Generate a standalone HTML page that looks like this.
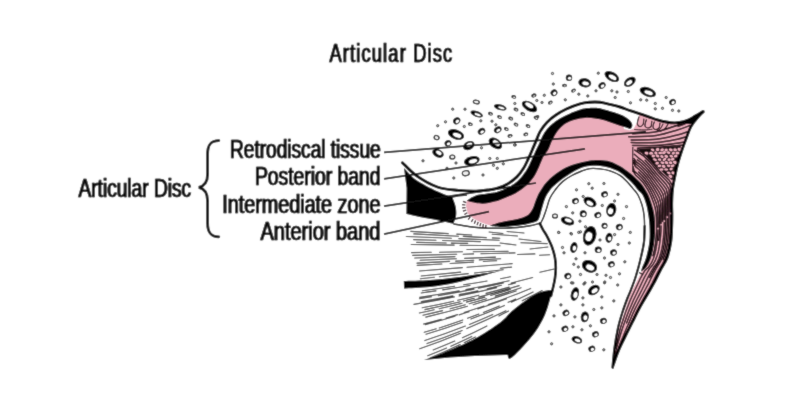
<!DOCTYPE html>
<html><head><meta charset="utf-8"><title>Articular Disc</title>
<style>
html,body{margin:0;padding:0;background:#fff;}
svg{display:block;font-family:"Liberation Sans",sans-serif;}
text{fill:#0c0c0c;stroke:#0c0c0c;stroke-width:0.45px;}
.t{filter:drop-shadow(1px 0 0 #111);}
</style></head>
<body>
<svg width="800" height="401" viewBox="0 0 800 401">
<defs><filter id="soft" x="0" y="0" width="800" height="401" filterUnits="userSpaceOnUse"><feConvolveMatrix order="3" kernelMatrix="0.02 0.085 0.02 0.085 0.58 0.085 0.02 0.085 0.02" divisor="1" edgeMode="duplicate" preserveAlpha="true"/></filter></defs>
<rect width="800" height="401" fill="#fff"/>
<g filter="url(#soft)">
<rect width="800" height="401" fill="#fff"/>
<path d="M466.8,200.6C468.8,200.2 474.3,198.8 479.0,198.0C483.7,197.2 489.7,197.5 495.0,196.0C500.3,194.5 506.2,192.0 511.0,189.0C515.8,186.0 520.3,182.2 524.0,178.0C527.7,173.8 530.7,168.3 533.0,164.0C535.3,159.7 537.5,155.7 538.0,152.0C538.5,148.3 535.3,145.3 535.7,141.9C536.1,138.5 538.3,134.7 540.2,131.4C542.1,128.2 544.3,125.1 546.9,122.4C549.5,119.7 552.6,117.2 555.9,115.0C559.1,112.8 562.4,110.9 566.4,109.0C570.4,107.1 576.1,104.9 580.0,103.8C583.9,102.7 586.7,102.5 590.0,102.2C593.3,102.0 596.7,101.9 600.0,102.3C603.3,102.7 606.7,103.6 610.0,104.4C613.3,105.2 616.7,106.0 620.0,107.0C623.3,108.0 626.7,109.5 630.0,110.6C633.3,111.7 636.9,112.8 640.0,113.8C643.1,114.8 645.8,115.8 648.7,116.8C651.6,117.8 654.6,119.0 657.5,119.9C660.4,120.8 663.3,121.5 666.2,122.0C669.1,122.5 672.1,123.0 675.0,122.9C677.9,122.8 680.8,122.4 683.7,121.6C686.6,120.8 689.6,119.6 692.5,118.1C695.4,116.6 699.5,113.6 701.2,112.6C703.0,111.5 702.7,111.9 703.0,111.8L696.4,119.0L690.8,126.9L686.3,138.2L682.0,150.0L678.0,163.0L675.0,176.0L672.5,190.0L671.8,203.0L672.0,215.0L671.8,226.0L670.8,242.0L667.0,258.0L660.5,270.0L655.0,281.0L650.0,290.0L640.0,307.0L632.5,322.0L626.0,335.0L618.8,350.0L612.5,367.5L614.0,350.0L620.0,325.0L630.0,295.0L645.0,265.0L650.0,240.0L648.0,205.0L640.0,188.0L625.0,175.0L600.0,166.0L575.0,170.0L555.0,184.0L545.0,200.0L538.0,215.0L520.0,222.0L490.5,225.5L488.7,224.9L481.2,222.4L473.7,218.7L468.0,213.7L466.0,206.2L466.8,200.6Z" fill="#EBADBB"/>
<path d="M452.4,189.8L454.5,190.0L456.5,190.2L458.5,190.4L460.4,190.6L462.3,190.8L464.2,190.9L466.0,191.0L467.8,191.1L469.6,191.2L471.3,191.2L473.0,191.2L474.6,191.2L476.2,191.2L477.8,191.1L479.3,191.0L480.8,190.9L482.3,190.8L483.7,190.6L485.1,190.4L486.4,190.2L487.7,190.0L488.9,189.9L490.0,189.7L491.0,189.6L491.9,189.4L492.6,189.3L493.3,189.2L494.0,189.1L494.6,189.0L495.2,188.9L495.9,188.7L496.7,188.5L497.5,188.2L498.4,187.9L499.4,187.5L500.5,187.1L501.6,186.7L502.7,186.3L503.8,185.8L504.9,185.3L506.0,184.8L507.0,184.3L508.0,183.7L509.0,183.1L509.9,182.5L510.9,181.9L511.8,181.2L512.7,180.6L513.6,179.9L514.4,179.2L515.3,178.4L516.1,177.7L516.9,176.9L517.7,176.1L518.4,175.3L519.2,174.4L519.9,173.5L520.6,172.6L521.2,171.7L521.9,170.7L522.5,169.8L523.1,168.9L523.7,168.0L524.2,167.1L524.8,166.2L525.2,165.3L525.7,164.4L526.1,163.5L526.6,162.6L527.0,161.7L527.4,160.8L527.8,159.9L528.2,159.0L528.6,158.1L529.0,157.3L529.4,156.4L529.8,155.6L530.1,154.7L530.5,153.9L530.9,153.0L531.3,152.2L531.6,151.4L532.0,150.5L532.4,149.7L532.7,148.8L533.1,148.0L533.4,147.2L533.8,146.3L534.2,145.5L534.5,144.6L534.9,143.7L535.3,142.8L535.7,141.9L536.1,140.9L536.5,139.9L536.9,138.8L537.3,137.8L537.8,136.7L538.2,135.6L538.7,134.5L539.1,133.4L539.7,132.4L540.2,131.4L540.8,130.4L541.4,129.5L542.0,128.5L542.6,127.6L543.3,126.7L543.9,125.8L544.7,124.9L545.4,124.1L546.1,123.2L546.9,122.4L547.7,121.6L548.5,120.8L549.4,120.0L550.3,119.3L551.2,118.5L552.1,117.8L553.0,117.1L554.0,116.4L554.9,115.7L555.9,115.0L556.9,114.3L557.9,113.7L558.8,113.1L559.8,112.5L560.9,111.9L561.9,111.3L563.0,110.7L564.1,110.1L565.2,109.6L566.4,109.0L567.7,108.4L569.0,107.9L570.4,107.3L571.8,106.7L573.2,106.1L574.7,105.6L576.1,105.1L577.5,104.6L578.8,104.2L580.0,103.8L581.1,103.5L582.2,103.2L583.3,103.0L584.3,102.8L585.2,102.7L586.2,102.5L587.1,102.4L588.1,102.4L589.0,102.3L590.0,102.2L591.0,102.1L592.0,102.1L593.0,102.0L594.0,102.0L595.0,102.0L596.0,102.0L597.0,102.1L598.0,102.1L599.0,102.2L600.0,102.3L601.0,102.4L602.0,102.6L603.0,102.8L604.0,103.0L605.0,103.2L606.0,103.4L607.0,103.7L608.0,103.9L609.0,104.2L610.0,104.4L611.0,104.6L612.0,104.9L613.0,105.1L614.0,105.4L615.0,105.6L616.0,105.9L617.0,106.1L618.0,106.4L619.0,106.7L620.0,107.0L621.0,107.3L622.0,107.7L623.0,108.0L624.0,108.4L625.0,108.8L626.0,109.1L627.0,109.5L628.0,109.9L629.0,110.3L630.0,110.6L631.0,110.9L632.0,111.3L633.0,111.6L634.1,111.9L635.1,112.2L636.1,112.6L637.1,112.9L638.1,113.2L639.1,113.5L638.8,116.4L636.8,122.9L633.8,128.4L629.8,130.2L624.0,129.0L621.8,117.2L620.9,116.8L619.9,116.5L619.0,116.2L618.2,115.9L617.3,115.6L616.4,115.3L615.5,115.1L614.6,114.8L613.7,114.6L612.8,114.3L611.8,114.1L610.9,113.9L609.9,113.6L608.9,113.4L607.9,113.2L606.9,112.9L605.9,112.7L604.9,112.4L603.9,112.2L603.0,112.0L602.1,111.8L601.3,111.6L600.5,111.5L599.7,111.3L599.0,111.2L598.2,111.2L597.4,111.1L596.6,111.1L595.8,111.0L594.9,111.0L594.1,111.0L593.3,111.0L592.4,111.1L591.5,111.1L590.6,111.2L589.7,111.2L588.8,111.3L588.0,111.4L587.2,111.5L586.5,111.6L585.8,111.7L585.0,111.8L584.2,112.0L583.4,112.2L582.5,112.4L581.5,112.8L580.3,113.1L579.1,113.6L577.8,114.0L576.5,114.5L575.1,115.0L573.8,115.6L572.5,116.1L571.3,116.7L570.2,117.2L569.1,117.7L568.1,118.2L567.2,118.7L566.3,119.2L565.3,119.7L564.5,120.2L563.6,120.7L562.7,121.3L561.9,121.8L561.0,122.4L560.1,123.0L559.3,123.6L558.4,124.3L557.6,124.9L556.8,125.5L556.1,126.1L555.4,126.8L554.7,127.4L554.0,128.0L553.4,128.6L552.8,129.3L552.2,130.0L551.6,130.6L551.0,131.4L550.5,132.1L550.0,132.8L549.5,133.6L549.0,134.3L548.5,135.1L548.0,135.8L547.6,136.5L547.3,137.3L546.9,138.1L546.5,139.0L546.1,140.0L545.7,141.0L545.3,142.1L544.9,143.2L544.4,144.3L544.0,145.4L543.6,146.4L543.2,147.3L542.8,148.2L542.4,149.0L542.1,149.9L541.7,150.7L541.4,151.6L541.0,152.4L540.6,153.2L540.2,154.1L539.9,155.0L539.5,155.8L539.1,156.6L538.8,157.5L538.4,158.4L538.0,159.2L537.6,160.1L537.2,161.0L536.8,161.9L536.3,162.8L536.0,163.7L535.6,164.5L535.2,165.4L534.7,166.3L534.3,167.3L533.8,168.4L533.2,169.4L532.6,170.5L532.0,171.7L531.3,172.8L530.7,173.8L530.0,174.8L529.3,175.9L528.6,176.9L527.8,178.0L527.0,179.0L526.1,180.1L525.2,181.2L524.3,182.2L523.3,183.3L522.3,184.2L521.3,185.1L520.3,186.0L519.2,186.9L518.1,187.7L517.0,188.5L515.9,189.3L514.8,190.1L513.7,190.8L512.5,191.5L511.2,192.2L510.0,192.9L508.7,193.5L507.4,194.1L506.1,194.6L504.9,195.1L503.7,195.6L502.5,196.0L501.4,196.4L500.3,196.7L499.3,197.1L498.3,197.4L497.4,197.6L496.4,197.8L495.5,198.0L494.7,198.1L493.9,198.3L493.1,198.4L492.2,198.5L491.3,198.6L490.2,198.8L489.0,198.9L487.7,199.1L486.3,199.3L484.9,199.5L483.3,199.7L481.7,199.9L480.0,200.0L478.2,200.1L476.4,200.2L474.7,200.2L472.9,200.2L471.1,200.2L469.3,200.2L467.5,200.1L452.5,197Z" fill="#fff"/>
<path d="M466.8,200.6L467.7,199.9L469.5,198.7L471.2,197.6L473.0,196.7L474.6,195.9L476.3,195.3L477.9,194.8L479.6,194.4L481.1,194.2L482.7,194.0L484.2,193.9L485.6,193.7L486.9,193.5L488.2,193.3L489.4,193.1L490.5,193.0L491.4,192.8L492.3,192.7L493.1,192.6L493.8,192.5L494.5,192.4L495.3,192.2L496.0,192.1L496.8,191.9L497.6,191.6L498.5,191.3L499.5,191.0L500.6,190.6L501.6,190.2L502.8,189.8L503.9,189.3L505.1,188.8L506.3,188.3L507.4,187.8L508.6,187.2L509.7,186.6L510.7,185.9L511.7,185.3L512.7,184.6L513.7,183.9L514.7,183.2L515.6,182.5L516.6,181.7L517.5,180.9L518.4,180.1L519.2,179.2L520.1,178.3L520.9,177.4L521.7,176.5L522.5,175.5L523.2,174.6L523.9,173.6L524.6,172.6L525.3,171.7L525.9,170.7L526.5,169.7L527.1,168.8L527.7,167.8L528.2,166.8L528.7,165.8L529.1,164.9L529.6,164.0L530.0,163.0L530.4,162.1L530.8,161.3L531.2,160.4L531.6,159.5L532.0,158.6L532.4,157.8L532.8,156.9L533.2,156.1L533.5,155.2L533.9,154.4L534.3,153.5L534.7,152.7L535.0,151.8L535.4,151.0L535.8,150.2L536.2,149.3L536.6,148.5L537.0,147.7L537.4,146.9L537.8,146.0L538.3,145.2L538.7,144.3L539.1,143.3L539.6,142.3L540.1,141.3L540.5,140.2L541.0,139.2L541.4,138.1L541.9,137.1L542.3,136.1L542.8,135.2L543.3,134.3L543.8,133.4L544.3,132.6L544.9,131.7L545.5,130.9L546.1,130.1L546.8,129.3L547.4,128.5L548.1,127.7L548.8,127.0L549.5,126.3L550.2,125.6L550.9,124.9L551.7,124.2L552.5,123.5L553.3,122.9L554.2,122.2L555.0,121.6L555.9,120.9L556.8,120.3L557.8,119.7L558.7,119.1L559.7,118.5L560.6,118.0L561.5,117.4L562.5,116.9L563.4,116.4L564.4,115.9L565.4,115.4L566.5,114.9L567.6,114.4L568.7,113.9L569.9,113.4L571.1,112.8L572.4,112.3L573.8,111.7L575.2,111.2L576.6,110.7L577.9,110.2L579.2,109.8L580.4,109.4L581.5,109.1L582.5,108.8L583.5,108.6L584.3,108.4L585.2,108.3L586.0,108.2L586.8,108.1L587.7,108.0L588.5,107.9L589.5,107.9L590.4,107.8L591.3,107.8L592.3,107.7L593.2,107.7L594.1,107.7L595.0,107.7L595.9,107.7L596.7,107.8L597.6,107.9L598.5,108.0L599.3,108.1L600.2,108.3L601.0,108.5L601.9,108.7L602.7,108.9L603.6,109.2L604.6,109.4L605.5,109.7L606.5,110.0L607.5,110.3L608.5,110.6L609.5,110.9L610.5,111.2L611.5,111.5L612.4,111.8L613.4,112.0L614.3,112.3L615.2,112.6L616.1,112.9L617.1,113.3L617.9,113.6C619.1,114.1 622.9,115.5 624.6,116.4C626.3,117.3 627.3,118.1 628.4,119.0C629.5,119.9 630.5,121.0 631.2,122.0C631.9,123.0 632.3,124.0 632.4,125.0C632.5,126.0 632.0,127.1 631.6,127.8C631.2,128.4 630.8,129.0 629.8,128.9C628.8,128.8 628.3,128.2 625.8,127.4C623.3,126.6 618.4,125.1 614.9,123.9C611.4,122.7 608.2,121.3 604.9,120.4C601.6,119.5 598.2,118.8 594.9,118.4C591.6,118.0 588.3,117.7 585.0,117.9C581.7,118.1 578.4,118.7 575.0,119.7C571.6,120.7 567.8,122.0 564.9,123.9C562.0,125.9 559.5,128.7 557.4,131.4C555.3,134.2 553.7,137.4 552.2,140.4C550.7,143.4 549.7,147.0 548.4,149.4C547.1,151.8 545.6,153.4 544.6,155.0C543.6,156.6 543.5,156.6 542.4,159.0C541.3,161.4 539.4,166.4 537.9,169.5C536.4,172.6 535.4,175.0 533.4,177.7C531.4,180.4 528.9,183.3 525.9,185.9C522.9,188.5 518.9,191.4 515.4,193.4C511.9,195.4 508.4,196.5 505.0,197.9C501.6,199.3 498.7,200.6 494.9,201.6C491.1,202.6 486.5,203.7 482.4,203.7C478.2,203.7 472.6,202.3 470.0,201.8C467.4,201.3 467.3,200.8 466.8,200.6Z" fill="#000"/>
<path d="M451,197.3 Q458,195.6 467,195.2" fill="none" stroke="#000" stroke-width="1.3"/>
<path d="M632.5,133.7C636.5,133.4 649.2,133.1 656.2,131.8C663.2,130.6 669.0,127.9 674.8,126.2C680.6,124.5 688.3,122.5 691.0,121.8" fill="none" stroke="#1c0a10" stroke-width="1.5" stroke-linecap="round"/>
<path d="M628.7,136.8C633.3,136.6 648.1,136.6 656.2,135.5C664.3,134.4 671.7,131.7 677.3,130.0C682.9,128.3 687.7,126.3 689.8,125.6" fill="none" stroke="#1c0a10" stroke-width="1.5" stroke-linecap="round"/>
<path d="M631.2,139.9C635.4,139.8 648.5,140.1 656.2,139.3C663.9,138.5 672.1,136.2 677.3,134.9C682.5,133.7 685.6,132.3 687.3,131.8" fill="none" stroke="#1c0a10" stroke-width="1.5" stroke-linecap="round"/>
<path d="M631.2,142.6C635.4,142.6 648.5,143.1 656.2,142.6C663.9,142.1 672.3,140.3 677.3,139.3C682.3,138.3 684.5,137.2 686.0,136.8" fill="none" stroke="#1c0a10" stroke-width="1.5" stroke-linecap="round"/>
<path d="M632.5,145.5C636.5,145.5 649.2,145.9 656.2,145.6C663.2,145.3 670.0,144.2 674.8,143.6C679.6,143.0 683.1,142.1 684.8,141.8" fill="none" stroke="#1c0a10" stroke-width="1.5" stroke-linecap="round"/>
<path d="M637.5,148.2C641.6,148.0 654.7,147.4 662.4,146.9C670.1,146.4 680.1,145.5 683.6,145.2" fill="none" stroke="#1c0a10" stroke-width="1.5" stroke-linecap="round"/>
<path d="M638.9,117.0C638.7,117.7 637.9,119.8 637.7,121.0C637.5,122.2 637.1,123.6 637.5,124.5C637.9,125.4 639.1,126.6 640.0,126.6C640.9,126.6 642.4,125.4 643.0,124.5C643.6,123.6 643.5,122.1 643.6,121.2C643.7,120.3 643.8,119.4 643.8,119.0" fill="none" stroke="#1c0a10" stroke-width="1.2" stroke-linecap="round"/>
<path d="M646.4,119.8C646.2,120.4 645.4,122.4 645.2,123.5C645.0,124.6 644.7,125.8 645.2,126.5C645.7,127.2 647.0,128.0 648.0,128.0C649.0,128.0 650.4,127.2 651.0,126.5C651.6,125.8 651.4,124.3 651.5,123.5C651.6,122.7 651.8,121.8 651.8,121.4" fill="none" stroke="#1c0a10" stroke-width="1.2" stroke-linecap="round"/>
<path d="M654.4,122.0C654.2,122.5 653.4,124.0 653.2,125.0C653.0,126.0 652.9,127.4 653.4,128.2C653.9,129.0 655.1,129.6 656.0,129.6C656.9,129.6 658.4,128.7 659.0,128.0C659.6,127.3 659.5,126.0 659.6,125.2C659.8,124.4 659.9,123.4 659.9,123.0" fill="none" stroke="#1c0a10" stroke-width="1.2" stroke-linecap="round"/>
<path d="M663.0,124.0C662.6,124.8 661.6,127.2 660.5,128.5C659.4,129.8 657.2,131.0 656.5,131.5" fill="none" stroke="#1c0a10" stroke-width="1.1" stroke-linecap="round"/>
<path d="M668.0,124.3C667.5,125.0 666.3,127.3 665.0,128.5C663.7,129.7 660.8,130.8 660.0,131.3" fill="none" stroke="#1c0a10" stroke-width="1.1" stroke-linecap="round"/>
<path d="M682.0,123.4C680.7,123.9 677.0,125.3 674.0,126.3C671.0,127.3 665.7,129.0 664.0,129.5" fill="none" stroke="#1c0a10" stroke-width="1.1" stroke-linecap="round"/>
<path d="M694.0,119.0C692.7,119.7 688.7,122.1 686.0,123.4C683.3,124.7 679.3,126.1 678.0,126.6" fill="none" stroke="#1c0a10" stroke-width="1.1" stroke-linecap="round"/>
<path d="M634.5,129.5C636.1,129.6 641.1,130.0 644.0,130.0C646.9,130.0 650.7,129.4 652.0,129.3" fill="none" stroke="#1c0a10" stroke-width="1.0" stroke-linecap="round"/>
<path d="M633.0,171.2L635.5,174.9L639.1,178.2L642.4,181.7L645.2,185.7L647.8,189.7L650.1,194.0L652.0,198.4L653.7,202.9L655.1,207.5L656.0,212.3L656.4,217.1L656.5,221.9L656.5,226.8L656.5,231.6L656.2,236.5L655.8,241.3L655.1,246.1L654.2,250.9L653.0,255.6M633.0,166.8L634.3,171.1L638.0,174.3L641.6,177.7L644.7,181.5L647.5,185.5L650.1,189.7L652.3,194.0L654.3,198.4L656.1,202.9L657.3,207.7L657.8,212.5L658.0,217.5L658.1,222.4L658.0,227.3M638.7,172.0L642.3,175.5L645.5,179.3L648.4,183.4L651.1,187.6L653.6,191.8L655.8,196.2L657.8,200.6L659.0,205.5L659.4,210.4L659.6,215.4L659.6,220.4L659.6,225.4L659.5,230.4L659.2,235.4L658.7,240.4M633.4,162.6L635.5,166.6L639.4,169.8L643.1,173.3L646.4,177.2L649.4,181.3L652.2,185.4L654.8,189.7L657.3,193.9L659.5,198.3L660.7,203.2L661.0,208.3L661.1,213.3L661.1,218.4L661.1,223.5M633.6,160.5L636.1,164.3L640.2,167.5L643.9,171.1L647.2,175.0L650.3,179.1L653.2,183.3L656.1,187.5L658.8,191.7L661.2,196.1L662.4,201.0L662.6,206.1L662.7,211.3L662.6,216.4L662.7,221.6M633.9,158.5L636.7,162.1L640.9,165.3L644.7,168.9L648.1,172.8L651.2,177.0L654.3,181.2L657.3,185.3L660.3,189.4L662.9,193.8L664.1,198.8L664.2,204.0L664.2,209.2L664.2,214.4L664.2,219.7M637.4,159.8L641.6,163.0L645.4,166.6L648.9,170.7L652.2,174.8L655.4,179.0L658.6,183.1L661.8,187.2L664.6,191.5L665.8,196.6L665.8,201.9L665.7,207.2L665.7,212.5L665.7,217.8L665.7,223.1L665.6,228.4L665.2,233.6L664.8,238.9L664.2,244.2L663.2,249.4L661.9,254.5L660.1,259.4L657.5,263.8L654.8,268.2L652.1,272.8L649.7,277.5M634.3,154.3L638.0,157.6L642.3,160.7L646.2,164.4L649.8,168.5L653.1,172.7L656.4,176.9L659.8,181.0L663.2,184.9L666.3,189.2L667.5,194.4L667.4,199.7L667.3,205.1L667.2,210.5L667.3,215.8M645.1,160.3L648.8,164.3L652.3,168.4L655.7,172.7L659.2,176.8L662.9,180.7L666.4,184.8L669.1,189.5L669.1,194.9L668.9,200.3L668.8,205.8L668.8,211.2L668.9,216.7L668.8,222.1L668.7,227.6L668.3,233.0L668.0,238.4L667.4,243.8L666.3,249.2L664.9,254.4L663.1,259.5M634.8,150.1L639.2,153.1L643.8,156.2L647.8,160.0L651.5,164.1L655.0,168.4L658.5,172.6L662.3,176.6L666.2,180.5L669.7,184.7L670.9,189.9L670.6,195.5L670.4,201.0L670.3,206.5L670.4,212.0M637.3,149.8L642.1,152.7L646.5,156.2L650.3,160.2L654.0,164.5L657.5,168.8L661.3,172.9L665.4,176.6L669.4,180.6L672.3,185.3L672.2,190.9L671.8,196.5L671.6,202.0L671.6,207.6L671.7,213.2L671.7,218.8L671.6,224.4L671.4,230.0L671.1,235.6L670.6,241.1" fill="none" stroke="#1c0a10" stroke-width="1.4" stroke-linecap="round" stroke-linejoin="round"/>
<path d="M658.0,229.8L657.8,234.7L657.4,239.6L656.7,244.5L655.9,249.3L654.8,254.1L653.3,258.8L651.3,263.2L648.5,267.2L645.0,270.4L642.5,274.7L640.1,278.9L638.0,283.4L635.9,287.9L633.9,292.3L631.8,296.8L629.8,301.3L628.0,305.9L626.2,310.4L624.6,315.1L623.1,319.7L621.6,324.4L620.1,329.1L619.0,333.9L617.8,338.6L616.6,343.4L615.5,348.1M661.1,226.0L661.0,231.1L660.6,236.2L660.0,241.2L659.3,246.2L658.4,251.2L657.0,256.0L655.2,260.7L652.7,265.0L649.5,268.6L646.9,273.0L644.4,277.4L642.2,282.0L640.0,286.6L637.8,291.2L635.6,295.7L633.4,300.3L631.4,304.9L629.4,309.5L627.5,314.2L625.8,319.0L624.1,323.8L622.4,328.5L620.9,333.3L619.5,338.1L618.0,342.9L616.6,347.8L615.5,352.7L614.4,357.6L613.5,362.5L612.5,367.5M664.2,222.3L664.1,227.5L663.8,232.7L663.4,237.9L662.8,243.1L662.0,248.2L660.7,253.3L659.1,258.2L656.9,262.8L653.9,266.8L651.2,271.3L648.7,275.9L646.4,280.6L644.1,285.3L641.8,290.0L639.4,294.6L637.0,299.3L634.7,303.9L632.5,308.6L630.4,313.4L628.5,318.2L626.6,323.1M667.3,218.5L667.3,223.9L667.0,229.3L666.7,234.6L666.3,240.0L665.6,245.3L664.5,250.6L663.0,255.7L661.0,260.6L658.3,265.1L655.6,269.7L653.0,274.4L650.6,279.2L648.2,284.1L645.7,288.8L643.2,293.5L640.6,298.2L638.1,303.0L635.6,307.7L633.3,312.6L631.2,317.5L629.1,322.4L626.9,327.3L624.8,332.2L622.8,337.2L620.7,342.1L618.7,347.0L617.0,352.1L615.4,357.2M670.4,214.8L670.4,220.3L670.3,225.8L670.0,231.4L669.7,236.9L669.1,242.4L668.2,247.8L666.9,253.2L665.2,258.4L662.7,263.3L659.9,268.0L657.3,272.9L654.8,277.9L652.3,282.8L649.7,287.6L647.0,292.4L644.2,297.2L641.5,302.0L638.8,306.8L636.3,311.8L633.9,316.7L631.5,321.7L629.2,326.7L626.8,331.7L624.4,336.7L622.1,341.7L619.8,346.7L617.7,351.8L615.9,357.0L614.2,362.2L612.5,367.5" fill="none" stroke="#1c0a10" stroke-width="1.3" stroke-linecap="round" stroke-linejoin="round"/>
<path d="M632.8,147 L632.6,172" stroke="#1c0a10" stroke-width="1.1" fill="none"/>
<path d="M637.8,149.3 L680.8,146 Q678.5,164 672.4,180.5 Q659,170 650,159.5 Q644,153.5 637.8,149.3Z" fill="#16090d"/>
<ellipse cx="652.7" cy="149.9" rx="1.9" ry="1.3" fill="#EBADBB" transform="rotate(25 652.7 149.9)"/>
<ellipse cx="657.6" cy="149.6" rx="1.9" ry="1.5" fill="#EBADBB" transform="rotate(-6 657.6 149.6)"/>
<ellipse cx="662.1" cy="149.9" rx="2.0" ry="1.5" fill="#EBADBB" transform="rotate(-27 662.1 149.9)"/>
<ellipse cx="666.1" cy="150.0" rx="1.8" ry="1.5" fill="#EBADBB" transform="rotate(-1 666.1 150.0)"/>
<ellipse cx="670.8" cy="149.8" rx="2.1" ry="1.5" fill="#EBADBB" transform="rotate(19 670.8 149.8)"/>
<ellipse cx="675.1" cy="149.8" rx="1.9" ry="1.5" fill="#EBADBB" transform="rotate(11 675.1 149.8)"/>
<ellipse cx="679.2" cy="149.3" rx="1.8" ry="1.5" fill="#EBADBB" transform="rotate(20 679.2 149.3)"/>
<ellipse cx="646.5" cy="153.2" rx="2.0" ry="1.4" fill="#EBADBB" transform="rotate(17 646.5 153.2)"/>
<ellipse cx="651.1" cy="153.2" rx="2.0" ry="1.5" fill="#EBADBB" transform="rotate(0 651.1 153.2)"/>
<ellipse cx="655.9" cy="153.0" rx="1.8" ry="1.5" fill="#EBADBB" transform="rotate(34 655.9 153.0)"/>
<ellipse cx="660.2" cy="153.0" rx="2.0" ry="1.3" fill="#EBADBB" transform="rotate(-1 660.2 153.0)"/>
<ellipse cx="664.0" cy="152.6" rx="2.1" ry="1.5" fill="#EBADBB" transform="rotate(-24 664.0 152.6)"/>
<ellipse cx="668.4" cy="152.6" rx="2.1" ry="1.3" fill="#EBADBB" transform="rotate(19 668.4 152.6)"/>
<ellipse cx="673.3" cy="153.2" rx="1.8" ry="1.4" fill="#EBADBB" transform="rotate(-30 673.3 153.2)"/>
<ellipse cx="677.3" cy="153.0" rx="2.0" ry="1.5" fill="#EBADBB" transform="rotate(0 677.3 153.0)"/>
<ellipse cx="653.3" cy="155.9" rx="1.8" ry="1.5" fill="#EBADBB" transform="rotate(5 653.3 155.9)"/>
<ellipse cx="657.5" cy="155.9" rx="2.1" ry="1.4" fill="#EBADBB" transform="rotate(31 657.5 155.9)"/>
<ellipse cx="661.9" cy="156.5" rx="2.0" ry="1.3" fill="#EBADBB" transform="rotate(29 661.9 156.5)"/>
<ellipse cx="666.2" cy="156.3" rx="2.0" ry="1.5" fill="#EBADBB" transform="rotate(20 666.2 156.3)"/>
<ellipse cx="671.3" cy="156.2" rx="2.0" ry="1.3" fill="#EBADBB" transform="rotate(18 671.3 156.2)"/>
<ellipse cx="675.7" cy="156.1" rx="1.9" ry="1.4" fill="#EBADBB" transform="rotate(-18 675.7 156.1)"/>
<ellipse cx="655.0" cy="159.6" rx="2.1" ry="1.3" fill="#EBADBB" transform="rotate(23 655.0 159.6)"/>
<ellipse cx="659.6" cy="159.6" rx="1.8" ry="1.3" fill="#EBADBB" transform="rotate(12 659.6 159.6)"/>
<ellipse cx="664.5" cy="159.3" rx="2.1" ry="1.3" fill="#EBADBB" transform="rotate(-32 664.5 159.3)"/>
<ellipse cx="669.1" cy="159.6" rx="1.8" ry="1.4" fill="#EBADBB" transform="rotate(-1 669.1 159.6)"/>
<ellipse cx="672.7" cy="159.2" rx="1.9" ry="1.5" fill="#EBADBB" transform="rotate(-22 672.7 159.2)"/>
<ellipse cx="657.1" cy="163.2" rx="1.9" ry="1.5" fill="#EBADBB" transform="rotate(-12 657.1 163.2)"/>
<ellipse cx="662.4" cy="162.7" rx="2.1" ry="1.3" fill="#EBADBB" transform="rotate(9 662.4 162.7)"/>
<ellipse cx="666.5" cy="162.7" rx="2.0" ry="1.5" fill="#EBADBB" transform="rotate(24 666.5 162.7)"/>
<ellipse cx="670.6" cy="162.7" rx="1.9" ry="1.4" fill="#EBADBB" transform="rotate(17 670.6 162.7)"/>
<ellipse cx="674.9" cy="162.4" rx="2.1" ry="1.5" fill="#EBADBB" transform="rotate(30 674.9 162.4)"/>
<ellipse cx="659.5" cy="165.8" rx="2.0" ry="1.3" fill="#EBADBB" transform="rotate(-4 659.5 165.8)"/>
<ellipse cx="663.7" cy="166.4" rx="2.0" ry="1.5" fill="#EBADBB" transform="rotate(20 663.7 166.4)"/>
<ellipse cx="668.7" cy="165.7" rx="2.0" ry="1.3" fill="#EBADBB" transform="rotate(3 668.7 165.7)"/>
<ellipse cx="672.7" cy="165.7" rx="2.0" ry="1.3" fill="#EBADBB" transform="rotate(-21 672.7 165.7)"/>
<ellipse cx="661.5" cy="169.5" rx="2.1" ry="1.3" fill="#EBADBB" transform="rotate(-1 661.5 169.5)"/>
<ellipse cx="666.1" cy="169.5" rx="2.0" ry="1.3" fill="#EBADBB" transform="rotate(6 666.1 169.5)"/>
<ellipse cx="671.1" cy="169.0" rx="1.8" ry="1.3" fill="#EBADBB" transform="rotate(-20 671.1 169.0)"/>
<ellipse cx="668.8" cy="172.9" rx="2.0" ry="1.3" fill="#EBADBB" transform="rotate(23 668.8 172.9)"/>
<ellipse cx="673.1" cy="172.9" rx="1.9" ry="1.5" fill="#EBADBB" transform="rotate(20 673.1 172.9)"/>
<ellipse cx="670.4" cy="176.2" rx="2.1" ry="1.5" fill="#EBADBB" transform="rotate(32 670.4 176.2)"/>
<path d="M402.4,162.7C404.7,164.8 410.2,171.3 416.0,175.4C421.8,179.5 430.3,184.5 437.4,187.0C444.5,189.5 452.0,189.7 458.5,190.4C465.0,191.1 470.9,191.3 476.2,191.2C481.4,191.1 486.4,190.2 490.0,189.7C493.6,189.2 494.5,189.2 497.5,188.2C500.5,187.2 504.8,185.6 508.0,183.7C511.2,181.8 514.3,179.5 516.9,176.9C519.5,174.3 521.8,171.0 523.7,168.0C525.6,165.0 526.8,161.9 528.2,159.0C529.6,156.1 530.8,153.3 532.0,150.5C533.2,147.7 534.3,145.1 535.7,141.9C537.1,138.7 538.3,134.7 540.2,131.4C542.1,128.2 544.3,125.1 546.9,122.4C549.5,119.7 552.6,117.2 555.9,115.0C559.1,112.8 562.4,110.9 566.4,109.0C570.4,107.1 576.1,104.9 580.0,103.8C583.9,102.7 586.7,102.5 590.0,102.2C593.3,102.0 596.7,101.9 600.0,102.3C603.3,102.7 606.7,103.6 610.0,104.4C613.3,105.2 616.7,106.0 620.0,107.0C623.3,108.0 626.7,109.5 630.0,110.6C633.3,111.7 636.9,112.8 640.0,113.8C643.1,114.8 645.8,115.8 648.7,116.8C651.6,117.8 654.6,119.0 657.5,119.9C660.4,120.8 663.3,121.5 666.2,122.0C669.1,122.5 672.1,123.0 675.0,122.9C677.9,122.8 680.8,122.4 683.7,121.6C686.6,120.8 689.6,119.6 692.5,118.1C695.4,116.6 699.5,113.6 701.2,112.6C703.0,111.5 702.7,111.9 703.0,111.8" fill="none" stroke="#000" stroke-width="2.9" stroke-linecap="round"/>
<path d="M703.0,112.0C701.9,113.2 698.4,116.5 696.4,119.0C694.4,121.5 692.5,123.7 690.8,126.9C689.1,130.1 687.8,134.3 686.3,138.2C684.8,142.0 683.4,145.9 682.0,150.0C680.6,154.1 679.2,158.7 678.0,163.0C676.8,167.3 675.9,171.5 675.0,176.0C674.1,180.5 673.0,185.5 672.5,190.0C672.0,194.5 671.9,198.8 671.8,203.0C671.7,207.2 672.0,211.2 672.0,215.0C672.0,218.8 672.0,221.5 671.8,226.0C671.6,230.5 671.6,236.7 670.8,242.0C670.0,247.3 668.7,253.3 667.0,258.0C665.3,262.7 662.5,266.2 660.5,270.0C658.5,273.8 656.8,277.7 655.0,281.0C653.2,284.3 652.5,285.7 650.0,290.0C647.5,294.3 642.9,301.7 640.0,307.0C637.1,312.3 634.8,317.3 632.5,322.0C630.2,326.7 628.3,330.3 626.0,335.0C623.7,339.7 621.0,344.6 618.8,350.0C616.5,355.4 613.5,364.6 612.5,367.5" fill="none" stroke="#000" stroke-width="2.7" stroke-linecap="round"/>
<path d="M704.8,110.3 L694,115 L686,121 L684,123.5 L690,124.2 L696,121.5 Z" fill="#000"/>
<path d="M531.9,210.0C532.4,208.7 533.9,204.9 534.9,202.4C535.9,199.9 536.6,197.4 537.9,194.9C539.1,192.4 540.9,189.6 542.4,187.4C543.9,185.2 545.2,183.4 547.0,181.5C548.8,179.6 550.2,178.1 552.9,176.0C555.5,173.9 559.2,171.0 562.9,169.0C566.6,167.0 570.4,165.4 574.9,164.0C579.4,162.6 585.6,161.3 589.8,160.6C594.0,159.9 596.6,159.8 600.0,160.0C603.4,160.2 606.7,160.5 610.0,161.5C613.3,162.5 616.7,164.1 620.0,166.0C623.3,167.9 627.2,170.8 630.0,173.0C632.8,175.2 634.8,177.1 636.8,179.0C638.8,180.9 640.1,182.0 642.0,184.5C643.9,187.0 646.3,190.6 648.0,194.0C649.7,197.4 650.9,201.5 652.0,205.0C653.1,208.5 653.9,211.5 654.4,215.0C654.9,218.5 655.0,221.5 655.0,226.0C655.0,230.5 655.0,236.7 654.3,242.0C653.6,247.3 652.4,253.5 651.0,257.8C649.6,262.1 647.7,265.5 646.0,267.8C644.3,270.1 641.8,270.9 641.0,271.5L636.0,276.0L631.0,290.0L622.5,312.0L616.0,340.0L612.0,372.0L540.0,372.0L549.0,320.0L551.0,296.0L551.0,296.0L552.5,290.0L555.0,278.0L555.8,268.0L555.0,258.0L552.0,247.0L547.3,236.8L542.8,229.3L539.8,223.4Z" fill="#fff"/>
<path d="M490.5,225.5C491.6,225.1 495.0,223.7 497.4,223.0C499.8,222.3 501.7,221.9 505.0,221.2C508.3,220.5 513.7,219.9 517.4,219.0C521.1,218.1 524.6,217.1 527.0,215.6C529.4,214.1 530.6,212.2 531.9,210.0C533.2,207.8 533.9,204.9 534.9,202.4C535.9,199.9 536.6,197.4 537.9,194.9C539.1,192.4 540.9,189.6 542.4,187.4C543.9,185.2 545.2,183.4 547.0,181.5C548.8,179.6 550.2,178.1 552.9,176.0C555.5,173.9 559.2,171.0 562.9,169.0C566.6,167.0 570.4,165.4 574.9,164.0C579.4,162.6 585.6,161.3 589.8,160.6C594.0,159.9 596.6,159.8 600.0,160.0C603.4,160.2 606.7,160.5 610.0,161.5C613.3,162.5 616.7,164.1 620.0,166.0C623.3,167.9 627.2,170.8 630.0,173.0C632.8,175.2 634.8,177.1 636.8,179.0C638.8,180.9 640.1,182.0 642.0,184.5C643.9,187.0 646.3,190.6 648.0,194.0C649.7,197.4 650.9,201.5 652.0,205.0C653.1,208.5 653.9,211.5 654.4,215.0C654.9,218.5 655.0,221.5 655.0,226.0C655.0,230.5 655.0,236.7 654.3,242.0C653.6,247.3 652.4,253.5 651.0,257.8C649.6,262.1 647.7,265.5 646.0,267.8C644.3,270.1 641.8,270.9 641.0,271.5C641.2,270.9 641.2,270.1 642.0,267.8C642.8,265.5 644.8,262.1 646.0,257.8C647.2,253.5 648.7,247.3 649.3,242.0C649.9,236.7 649.7,230.5 649.5,226.0C649.3,221.5 648.9,218.7 648.3,215.0C647.7,211.3 647.0,207.3 646.0,204.0C645.0,200.7 643.9,197.3 642.5,195.0C641.1,192.7 639.2,191.7 637.8,190.0C636.3,188.3 635.4,186.7 633.8,184.9C632.1,183.1 630.2,181.1 627.9,179.0C625.6,176.9 623.0,174.2 620.0,172.4C617.0,170.6 613.3,169.1 610.0,168.0C606.7,166.9 603.3,166.3 600.0,166.0C596.7,165.7 593.3,165.6 590.0,166.0C586.7,166.4 583.4,167.1 580.0,168.4C576.6,169.7 573.2,171.9 569.9,174.0C566.5,176.1 562.5,178.9 559.9,180.9C557.2,182.9 555.6,184.4 554.0,186.0C552.4,187.6 551.4,188.4 550.0,190.4C548.6,192.4 546.8,194.6 545.4,197.9C544.0,201.2 542.6,206.7 541.6,210.0C540.6,213.3 540.3,215.6 539.5,217.5C538.7,219.4 538.5,220.2 537.0,221.2C535.5,222.1 534.1,222.4 530.8,223.2C527.5,224.0 522.1,225.2 517.4,225.8C512.7,226.4 506.9,227.0 502.4,227.0C497.9,227.0 492.5,226.2 490.5,226.0Z" fill="#000"/>
<path d="M540.5,223.4C540.9,222.6 542.1,220.7 543.0,218.5C543.9,216.3 544.9,213.4 546.1,210.0C547.3,206.6 548.4,201.4 550.0,198.0C551.6,194.6 553.4,192.3 555.5,189.5C557.6,186.7 560.2,183.7 562.9,181.4C565.6,179.1 568.8,177.2 571.9,175.5C575.0,173.8 578.8,172.2 581.8,171.0C584.8,169.8 587.0,168.9 590.0,168.6C593.0,168.2 596.7,168.5 600.0,168.9C603.3,169.3 606.7,169.8 610.0,170.9C613.3,172.0 617.2,173.7 620.0,175.4C622.8,177.2 624.8,179.2 626.9,181.4C629.0,183.6 630.9,186.1 632.8,188.4C634.6,190.7 636.5,192.2 638.0,195.0C639.5,197.8 641.0,201.7 642.0,205.0C643.0,208.3 643.6,211.5 644.0,215.0C644.4,218.5 644.6,221.5 644.6,226.0C644.6,230.5 644.1,239.3 644.0,242.0" fill="none" stroke="#000" stroke-width="1.4" stroke-linecap="round"/>
<path d="M644.6,226.0C644.5,228.7 644.7,236.3 644.0,242.0C643.3,247.7 641.6,254.4 640.3,260.0C639.0,265.6 637.5,270.9 636.0,275.8C634.5,280.8 632.4,286.0 631.0,289.7C629.6,293.4 628.9,294.3 627.5,298.0C626.1,301.7 624.1,307.0 622.5,312.0C620.9,317.0 619.3,322.0 618.0,328.0C616.7,334.0 615.4,341.4 614.5,348.0C613.6,354.6 612.8,364.2 612.5,367.5" fill="none" stroke="#000" stroke-width="2.2" stroke-linecap="round"/>
<path d="M539.8,223.4C540.3,224.4 541.5,227.1 542.8,229.3C544.0,231.5 545.8,233.9 547.3,236.8C548.8,239.8 550.7,243.5 552.0,247.0C553.3,250.5 554.4,254.5 555.0,258.0C555.6,261.5 555.8,264.7 555.8,268.0C555.8,271.3 555.5,274.3 555.0,278.0C554.5,281.7 553.2,287.0 552.5,290.0C551.8,293.0 551.2,295.0 551.0,296.0" fill="none" stroke="#000" stroke-width="2.6" stroke-linecap="round"/>
<path d="M639,272.5 L643,274.5" stroke="#000" stroke-width="1.2"/>
<path d="M453.5,224.0C456.2,224.5 464.1,226.1 470.0,226.8C475.9,227.5 482.9,228.0 488.7,228.2C494.5,228.4 500.2,228.3 505.0,228.2C509.8,228.1 513.2,228.0 517.4,227.6C521.6,227.2 526.3,226.5 530.0,225.8C533.7,225.1 537.9,223.8 539.5,223.4" fill="none" stroke="#000" stroke-width="1.5"/>
<path d="M466.2,202.6 l-3.2,-1.2" stroke="#30101a" stroke-width="1.25"/>
<path d="M465.4,205.0 l-3.4,-0.3" stroke="#30101a" stroke-width="1.25"/>
<path d="M465.5,207.6 l-3.4,0.3" stroke="#30101a" stroke-width="1.25"/>
<path d="M466.2,210.2 l-3.3,0.9" stroke="#30101a" stroke-width="1.25"/>
<path d="M467.3,212.8 l-2.9,1.7" stroke="#30101a" stroke-width="1.25"/>
<path d="M470.2,216.8 l-2.0,2.8" stroke="#30101a" stroke-width="1.25"/>
<path d="M473.0,219.0 l-1.6,3.0" stroke="#30101a" stroke-width="1.25"/>
<path d="M475.6,220.6 l-1.3,3.2" stroke="#30101a" stroke-width="1.25"/>
<path d="M478.2,221.9 l-1.1,3.2" stroke="#30101a" stroke-width="1.25"/>
<path d="M480.8,223.0 l-0.9,3.3" stroke="#30101a" stroke-width="1.25"/>
<path d="M483.4,224.0 l-0.6,3.3" stroke="#30101a" stroke-width="1.25"/>
<path d="M486.0,224.8 l-0.5,3.4" stroke="#30101a" stroke-width="1.25"/>
<path d="M404.0,168.0C406.0,169.9 410.4,175.8 416.0,179.7C421.6,183.6 431.3,188.3 437.4,191.3C443.5,194.3 450.0,196.5 452.5,197.5C453.0,198.9 455.0,203.2 455.6,206.2C456.2,209.2 456.6,212.6 456.2,215.5C455.8,218.4 453.9,222.4 453.5,223.8C450.8,223.2 443.6,221.6 437.4,220.3C431.2,219.0 421.4,217.2 416.2,216.2C411.0,215.1 408.0,214.4 406.4,214.0L406.6,188Z" fill="#000"/>
<path d="M492.1,234.3Q504.8,235.2 517.5,236.0M410.8,231.4Q429.6,232.5 448.3,233.6M456.8,234.1Q464.3,234.5 471.8,235.0M413.8,233.9Q436.1,235.1 458.5,236.2M463.3,236.4Q474.8,237.0 486.3,237.6M492.4,237.9Q496.1,238.1 499.8,238.3M406.3,236.5Q428.9,237.4 451.4,238.3M458.8,238.6Q479.0,239.4 499.2,240.2M413.6,239.6Q424.8,240.0 436.0,240.3M442.5,240.5Q461.5,241.0 480.4,241.6M520.9,242.8Q534.1,243.2 547.3,243.6M416.6,242.4Q431.4,242.7 446.2,243.0M451.3,243.1Q459.5,243.2 467.7,243.4M411.2,244.5Q432.7,244.8 454.2,245.1M460.0,245.2Q480.1,245.5 500.1,245.7M466.9,249.5Q480.6,249.5 494.4,249.4M411.5,252.6Q421.4,252.4 431.3,252.3M439.5,252.2Q451.0,252.0 462.5,251.8M473.2,251.7Q490.7,251.4 508.2,251.2M412.7,255.4Q434.7,254.9 456.7,254.3M463.2,254.2Q468.4,254.0 473.6,253.9M480.9,253.7Q497.9,253.3 515.0,252.9M414.7,258.0Q434.8,257.3 455.0,256.6M517.5,254.5Q526.2,254.2 534.9,253.9M420.1,260.3Q438.3,259.6 456.4,258.8M464.6,258.4Q480.1,257.8 495.5,257.1M539.5,255.3Q544.6,255.0 549.7,254.8M417.0,263.1Q433.3,262.3 449.6,261.4M455.7,261.1Q464.7,260.6 473.8,260.2M479.3,259.9Q490.0,259.3 500.7,258.8M417.2,265.4Q429.6,264.7 441.9,264.0M450.1,263.5Q461.8,262.8 473.5,262.1M483.3,261.5Q490.0,261.2 496.7,260.8M419.6,271.0Q441.0,269.3 462.4,267.6M467.0,267.2Q489.6,265.4 512.2,263.6M421.2,276.0Q441.0,274.0 460.7,272.1M500.3,268.2Q506.0,267.7 511.6,267.1M420.3,278.8Q427.4,278.0 434.5,277.3M439.3,276.7Q453.8,275.2 468.3,273.6M474.4,273.0Q488.8,271.4 503.3,269.8M507.0,231.5L524.0,233.0M519.0,239.0L541.0,241.5M489.0,232.0L503.0,233.5M530.0,249.0L548.0,247.0M500.0,243.0L516.0,245.0M422.3,290.7Q438.4,288.6 454.6,286.2M463.6,284.8Q475.4,283.0 487.1,281.0M500.5,278.7Q505.5,277.8 510.6,276.8M421.1,293.0Q428.6,292.0 436.0,290.9M442.7,289.9Q456.4,287.8 470.1,285.5M539.8,272.2Q547.0,270.6 554.2,269.0M419.7,297.4Q439.5,294.4 459.2,290.8M465.8,289.5Q487.5,285.5 509.2,280.7M419.4,298.7Q425.5,297.8 431.7,296.8M438.1,295.7Q456.1,292.7 474.0,289.1M478.4,288.3Q490.9,285.8 503.4,283.0M421.3,301.6Q437.1,299.0 452.9,295.9M459.2,294.6Q468.6,292.7 477.9,290.7M487.2,288.7Q494.4,287.0 501.6,285.3M511.3,283.0Q522.0,280.3 532.7,277.5M413.9,304.4Q434.1,301.0 454.4,296.9M459.0,296.0Q477.9,292.1 496.7,287.6M508.4,284.7Q511.9,283.9 515.4,283.0M422.2,307.8Q437.9,304.8 453.6,301.2M457.6,300.3Q468.3,297.9 478.9,295.2M486.0,293.4Q497.6,290.4 509.2,287.1M424.9,309.6Q442.6,306.0 460.3,301.8M463.5,301.0Q468.9,299.7 474.3,298.3M478.7,297.1Q499.0,291.8 519.2,285.6M419.3,313.0Q426.8,311.5 434.3,309.8M439.1,308.7Q450.6,306.1 462.1,303.2M466.4,302.1Q475.7,299.7 484.9,297.1M490.7,295.5Q500.5,292.7 510.3,289.6M422.9,315.2Q432.7,313.0 442.6,310.6M450.1,308.8Q457.7,306.8 465.3,304.7M469.1,303.7Q477.8,301.3 486.6,298.7M495.2,296.1Q508.1,292.1 521.1,287.7M425.8,317.1Q446.7,312.3 467.6,306.3M473.1,304.7Q494.6,298.4 516.2,290.9M423.5,324.0Q432.4,321.8 441.2,319.3M446.1,318.0Q451.8,316.3 457.6,314.6M464.1,312.5Q474.0,309.4 484.0,306.0M488.2,304.6Q509.4,297.2 530.7,288.4M425.2,324.6Q440.1,320.7 455.0,316.2M459.1,314.9Q464.1,313.4 469.1,311.8M477.8,308.9Q492.2,304.1 506.6,298.7M424.2,332.3Q430.3,330.6 436.3,328.8M439.2,327.9Q451.0,324.2 462.8,320.0M467.5,318.3Q473.2,316.3 478.9,314.1M483.3,312.4Q491.3,309.3 499.3,306.0M508.1,302.3Q511.9,300.7 515.7,299.0M426.0,334.3Q444.2,328.8 462.5,322.2M470.9,319.0Q487.7,312.7 504.5,305.4M511.3,302.3Q522.2,297.5 533.1,292.1M424.8,340.6Q445.1,334.1 465.4,326.1M469.4,324.5Q481.1,319.8 492.8,314.6M522.2,300.8Q532.1,295.8 542.1,290.5M427.0,343.6Q444.6,337.6 462.2,330.5M466.8,328.6Q486.3,320.4 505.9,310.8M419.7,348.8Q440.2,341.9 460.6,333.3M498.9,315.9Q503.7,313.5 508.6,311.0M433.1,349.9Q444.0,345.8 454.8,341.1M462.4,337.8Q474.6,332.2 486.9,325.9M427.7,355.7Q437.2,352.1 446.6,348.0M450.8,346.2Q461.3,341.5 471.8,336.4M430.0,358.0Q445.1,351.9 460.1,344.6M464.2,342.7Q469.8,339.9 475.4,337.0M541.6,297.2Q546.5,293.9 551.4,290.4" fill="none" stroke="#3a3a3a" stroke-width="1.1" stroke-linecap="round"/>
<path d="M403.8,281.0C408.1,280.8 421.5,280.6 430.0,280.0C438.5,279.4 446.7,278.5 455.0,277.5C463.3,276.5 472.5,275.1 480.0,274.0C487.5,272.9 496.7,271.5 500.0,271.0C496.7,271.9 487.5,274.5 480.0,276.5C472.5,278.5 463.3,281.2 455.0,283.0C446.7,284.8 438.5,286.1 430.0,287.0C421.5,287.9 408.3,288.2 404.0,288.5Z" fill="#000"/>
<path d="M423.8,360.0C426.0,359.2 432.6,357.2 437.0,355.5C441.4,353.8 443.7,352.8 450.0,350.0C456.3,347.2 466.7,343.1 475.0,338.5C483.3,333.9 493.7,327.2 500.0,322.5C506.3,317.8 508.0,314.2 513.0,310.0C518.0,305.8 525.1,300.6 530.0,297.5C534.9,294.4 538.8,292.8 542.5,291.5C546.2,290.2 550.8,290.2 552.5,290.0C552.2,291.0 552.2,291.8 551.0,296.0C549.8,300.2 547.7,308.9 545.0,315.0C542.3,321.1 539.2,326.7 535.0,332.5C530.8,338.3 524.2,345.6 520.0,350.0C515.8,354.4 512.1,357.9 510.0,358.8C507.9,359.6 507.9,355.6 507.5,355.0L475.0,356.0L450.0,357.5L423.8,360.0Z" fill="#000"/>
<ellipse rx="8.5" ry="4.5" transform="translate(529.5 106.5) rotate(30)"/><ellipse rx="4.4" ry="2.0" fill="#fff" transform="translate(529.2 105.2) rotate(30)"/>
<ellipse rx="6.5" ry="2.8" transform="translate(500.2 107.3) rotate(15)"/><ellipse rx="3.4" ry="1.2" fill="#fff" transform="translate(501.4 107.9) rotate(15)"/>
<ellipse rx="6.5" ry="2.8" transform="translate(476.7 114.0) rotate(20)"/><ellipse rx="3.4" ry="1.2" fill="#fff" transform="translate(477.7 114.6) rotate(20)"/>
<ellipse rx="3.8" ry="3.2" transform="translate(456.7 120.8) rotate(-40)"/><ellipse rx="2.0" ry="1.5" fill="#fff" transform="translate(457.3 121.4) rotate(-40)"/>
<ellipse rx="8.5" ry="4.8" transform="translate(456.0 134.4) rotate(20)"/><ellipse rx="4.4" ry="2.1" fill="#fff" transform="translate(457.2 135.3) rotate(20)"/>
<ellipse rx="4.0" ry="3.0" transform="translate(481.5 131.3) rotate(-35)"/><ellipse rx="2.1" ry="1.4" fill="#fff" transform="translate(482.1 131.9) rotate(-35)"/>
<ellipse rx="4.0" ry="3.0" transform="translate(497.7 129.8) rotate(-30)"/><ellipse rx="2.1" ry="1.4" fill="#fff" transform="translate(498.3 130.4) rotate(-30)"/>
<ellipse rx="7.5" ry="4.8" transform="translate(495.4 143.4) rotate(35)"/><ellipse rx="3.9" ry="2.1" fill="#fff" transform="translate(496.4 143.0) rotate(35)"/>
<ellipse rx="6.0" ry="4.2" transform="translate(468.8 145.6) rotate(-25)"/><ellipse rx="3.1" ry="1.9" fill="#fff" transform="translate(469.3 144.7) rotate(-25)"/>
<ellipse rx="3.5" ry="3.0" transform="translate(448.0 143.2) rotate(-30)"/><ellipse rx="1.8" ry="1.4" fill="#fff" transform="translate(448.6 143.8) rotate(-30)"/>
<ellipse cx="436.6" cy="137.6" rx="2.5" ry="2.0" fill="#eee" stroke="#000" stroke-width="1.2" transform="rotate(20 436.6 137.6)"/>
<ellipse cx="476.3" cy="102.0" rx="3.0" ry="1.8" fill="#eee" stroke="#000" stroke-width="1.2" transform="rotate(10 476.3 102.0)"/>
<ellipse rx="6.0" ry="4.0" transform="translate(438.0 153.3) rotate(25)"/><ellipse rx="3.1" ry="1.8" fill="#fff" transform="translate(438.9 152.8) rotate(25)"/>
<ellipse rx="8.0" ry="4.5" transform="translate(471.8 160.8) rotate(-15)"/><ellipse rx="4.2" ry="2.0" fill="#fff" transform="translate(473.1 161.2) rotate(-15)"/>
<ellipse cx="452.3" cy="157.0" rx="2.5" ry="2.0" fill="#eee" stroke="#000" stroke-width="1.2" transform="rotate(0 452.3 157.0)"/>
<ellipse cx="465.8" cy="173.2" rx="3.5" ry="2.5" fill="#eee" stroke="#000" stroke-width="1.2" transform="rotate(-10 465.8 173.2)"/>
<ellipse rx="6.5" ry="4.5" transform="translate(584.8 82.8) rotate(10)"/><ellipse rx="3.4" ry="2.0" fill="#fff" transform="translate(585.6 83.4) rotate(10)"/>
<ellipse rx="8.0" ry="4.5" transform="translate(611.8 76.5) rotate(30)"/><ellipse rx="4.2" ry="2.0" fill="#fff" transform="translate(612.6 77.3) rotate(30)"/>
<ellipse rx="6.5" ry="4.2" transform="translate(629.8 81.8) rotate(-35)"/><ellipse rx="3.4" ry="1.9" fill="#fff" transform="translate(629.2 82.6) rotate(-35)"/>
<ellipse rx="3.2" ry="3.2" transform="translate(569.0 77.7) rotate(0)"/><ellipse rx="1.7" ry="1.5" fill="#fff" transform="translate(569.6 78.3) rotate(0)"/>
<ellipse rx="3.5" ry="3.2" transform="translate(554.0 92.7) rotate(-40)"/><ellipse rx="1.8" ry="1.5" fill="#fff" transform="translate(554.6 93.3) rotate(-40)"/>
<ellipse rx="3.8" ry="3.0" transform="translate(602.0 85.5) rotate(-35)"/><ellipse rx="2.0" ry="1.4" fill="#fff" transform="translate(602.6 86.0) rotate(-35)"/>
<ellipse rx="8.5" ry="4.5" transform="translate(647.8 92.0) rotate(20)"/><ellipse rx="4.4" ry="2.0" fill="#fff" transform="translate(648.6 92.7) rotate(20)"/>
<ellipse rx="3.5" ry="3.0" transform="translate(672.5 102.0) rotate(-30)"/><ellipse rx="1.8" ry="1.4" fill="#fff" transform="translate(673.1 102.5) rotate(-30)"/>
<ellipse rx="7.0" ry="4.5" transform="translate(590.0 202.0) rotate(30)"/><ellipse rx="3.6" ry="2.0" fill="#fff" transform="translate(589.8 203.2) rotate(30)"/>
<ellipse rx="5.0" ry="7.0" transform="translate(611.3 210.0) rotate(10)"/><ellipse rx="2.6" ry="3.1" fill="#fff" transform="translate(610.5 211.2) rotate(10)"/>
<ellipse rx="7.0" ry="4.0" transform="translate(567.5 221.0) rotate(20)"/><ellipse rx="3.6" ry="1.8" fill="#fff" transform="translate(568.3 220.4) rotate(20)"/>
<ellipse rx="6.5" ry="10.0" transform="translate(589.7 235.8) rotate(15)"/><ellipse rx="3.4" ry="4.5" fill="#fff" transform="translate(588.8 236.6) rotate(15)"/>
<ellipse rx="3.5" ry="3.0" transform="translate(575.4 201.0) rotate(-20)"/><ellipse rx="1.8" ry="1.4" fill="#fff" transform="translate(576.0 201.6) rotate(-20)"/>
<ellipse rx="3.5" ry="3.0" transform="translate(604.5 194.3) rotate(-20)"/><ellipse rx="1.8" ry="1.4" fill="#fff" transform="translate(605.1 194.9) rotate(-20)"/>
<ellipse rx="3.5" ry="3.5" transform="translate(583.2 213.8) rotate(0)"/><ellipse rx="1.8" ry="1.6" fill="#fff" transform="translate(583.8 214.4) rotate(0)"/>
<ellipse rx="3.5" ry="3.0" transform="translate(597.8 215.0) rotate(-20)"/><ellipse rx="1.8" ry="1.4" fill="#fff" transform="translate(598.4 215.6) rotate(-20)"/>
<ellipse rx="3.0" ry="3.0" transform="translate(604.5 225.7) rotate(0)"/><ellipse rx="1.6" ry="1.4" fill="#fff" transform="translate(605.0 226.2) rotate(0)"/>
<ellipse rx="3.5" ry="3.2" transform="translate(619.3 227.0) rotate(-20)"/><ellipse rx="1.8" ry="1.5" fill="#fff" transform="translate(619.9 227.6) rotate(-20)"/>
<ellipse rx="3.5" ry="5.0" transform="translate(609.0 237.8) rotate(10)"/><ellipse rx="1.8" ry="2.2" fill="#fff" transform="translate(609.6 238.6) rotate(10)"/>
<ellipse cx="555.0" cy="216.0" rx="2.5" ry="2.0" fill="#eee" stroke="#000" stroke-width="1.2" transform="rotate(0 555.0 216.0)"/>
<ellipse rx="3.5" ry="5.5" transform="translate(573.8 247.5) rotate(15)"/><ellipse rx="1.8" ry="2.5" fill="#fff" transform="translate(574.4 248.3) rotate(15)"/>
<ellipse rx="3.5" ry="3.2" transform="translate(598.2 249.8) rotate(0)"/><ellipse rx="1.8" ry="1.5" fill="#fff" transform="translate(598.8 250.4) rotate(0)"/>
<ellipse rx="3.5" ry="3.2" transform="translate(613.5 252.5) rotate(-20)"/><ellipse rx="1.8" ry="1.5" fill="#fff" transform="translate(614.1 253.1) rotate(-20)"/>
<ellipse rx="8.0" ry="6.0" transform="translate(589.5 266.3) rotate(25)"/><ellipse rx="4.2" ry="2.7" fill="#fff" transform="translate(590.1 267.5) rotate(25)"/>
<ellipse rx="3.5" ry="3.0" transform="translate(611.3 264.3) rotate(-20)"/><ellipse rx="1.8" ry="1.4" fill="#fff" transform="translate(611.9 264.9) rotate(-20)"/>
<ellipse rx="3.5" ry="3.2" transform="translate(567.8 276.0) rotate(-20)"/><ellipse rx="1.8" ry="1.5" fill="#fff" transform="translate(568.4 276.6) rotate(-20)"/>
<ellipse rx="4.0" ry="7.0" transform="translate(574.9 294.0) rotate(15)"/><ellipse rx="2.1" ry="3.1" fill="#fff" transform="translate(575.5 294.9) rotate(15)"/>
<ellipse rx="6.5" ry="4.5" transform="translate(593.8 290.0) rotate(-35)"/><ellipse rx="3.4" ry="2.0" fill="#fff" transform="translate(594.7 290.7) rotate(-35)"/>
<ellipse rx="4.0" ry="5.5" transform="translate(584.8 316.9) rotate(10)"/><ellipse rx="2.1" ry="2.5" fill="#fff" transform="translate(585.4 317.7) rotate(10)"/>
<ellipse rx="3.5" ry="3.0" transform="translate(565.9 312.9) rotate(-30)"/><ellipse rx="1.8" ry="1.4" fill="#fff" transform="translate(566.5 313.4) rotate(-30)"/>
<ellipse rx="3.5" ry="3.0" transform="translate(564.9 328.8) rotate(-20)"/><ellipse rx="1.8" ry="1.4" fill="#fff" transform="translate(565.5 329.4) rotate(-20)"/>
<ellipse rx="3.5" ry="3.0" transform="translate(603.4 320.9) rotate(-20)"/><ellipse rx="1.8" ry="1.4" fill="#fff" transform="translate(604.0 321.4) rotate(-20)"/>
<ellipse rx="3.5" ry="3.0" transform="translate(595.4 334.2) rotate(-20)"/><ellipse rx="1.8" ry="1.4" fill="#fff" transform="translate(596.0 334.8) rotate(-20)"/>
<ellipse rx="5.5" ry="3.5" transform="translate(576.9 339.8) rotate(20)"/><ellipse rx="2.9" ry="1.6" fill="#fff" transform="translate(577.7 340.4) rotate(20)"/>
<ellipse rx="3.5" ry="3.0" transform="translate(591.8 348.8) rotate(-20)"/><ellipse rx="1.8" ry="1.4" fill="#fff" transform="translate(592.4 349.4) rotate(-20)"/>
<ellipse rx="2.5" ry="1.8" fill="#222" transform="translate(490.5 113.7) rotate(15)"/><ellipse rx="1.2" ry="0.7" fill="#e8e8e8" transform="translate(490.8 114.1) rotate(15)"/>
<ellipse rx="2.5" ry="1.8" fill="#222" transform="translate(499.5 117.0) rotate(30)"/><ellipse rx="1.2" ry="0.7" fill="#e8e8e8" transform="translate(499.8 117.4) rotate(30)"/>
<ellipse rx="2.5" ry="1.8" fill="#222" transform="translate(510.8 118.5) rotate(15)"/><ellipse rx="1.2" ry="0.7" fill="#e8e8e8" transform="translate(511.1 118.9) rotate(15)"/>
<ellipse rx="2.5" ry="1.8" fill="#222" transform="translate(470.3 124.2) rotate(15)"/><ellipse rx="1.2" ry="0.7" fill="#e8e8e8" transform="translate(470.6 124.6) rotate(15)"/>
<ellipse rx="2.5" ry="1.8" fill="#222" transform="translate(506.3 129.0) rotate(30)"/><ellipse rx="1.2" ry="0.7" fill="#e8e8e8" transform="translate(506.6 129.4) rotate(30)"/>
<ellipse rx="2.5" ry="1.8" fill="#222" transform="translate(528.0 126.0) rotate(30)"/><ellipse rx="1.2" ry="0.7" fill="#e8e8e8" transform="translate(528.3 126.4) rotate(30)"/>
<ellipse rx="2.5" ry="1.8" fill="#222" transform="translate(510.0 135.8) rotate(-15)"/><ellipse rx="1.2" ry="0.7" fill="#e8e8e8" transform="translate(510.3 136.2) rotate(-15)"/>
<ellipse rx="2.5" ry="1.8" fill="#222" transform="translate(525.8 134.3) rotate(-15)"/><ellipse rx="1.2" ry="0.7" fill="#e8e8e8" transform="translate(526.1 134.7) rotate(-15)"/>
<ellipse rx="2.5" ry="1.8" fill="#222" transform="translate(522.8 114.0) rotate(30)"/><ellipse rx="1.2" ry="0.7" fill="#e8e8e8" transform="translate(523.1 114.4) rotate(30)"/>
<ellipse rx="2.5" ry="1.8" fill="#222" transform="translate(516.0 109.5) rotate(15)"/><ellipse rx="1.2" ry="0.7" fill="#e8e8e8" transform="translate(516.3 109.9) rotate(15)"/>
<ellipse rx="2.5" ry="1.8" fill="#222" transform="translate(516.0 124.5) rotate(30)"/><ellipse rx="1.2" ry="0.7" fill="#e8e8e8" transform="translate(516.3 124.9) rotate(30)"/>
<ellipse rx="2.5" ry="1.8" fill="#222" transform="translate(534.0 95.3) rotate(-15)"/><ellipse rx="1.2" ry="0.7" fill="#e8e8e8" transform="translate(534.3 95.7) rotate(-15)"/>
<ellipse rx="2.5" ry="1.8" fill="#222" transform="translate(537.0 117.0) rotate(-30)"/><ellipse rx="1.2" ry="0.7" fill="#e8e8e8" transform="translate(537.3 117.4) rotate(-30)"/>
<ellipse rx="2.5" ry="1.8" fill="#222" transform="translate(513.8 96.8) rotate(15)"/><ellipse rx="1.2" ry="0.7" fill="#e8e8e8" transform="translate(514.1 97.2) rotate(15)"/>
<ellipse rx="2.5" ry="1.8" fill="#222" transform="translate(564.5 85.5) rotate(0)"/><ellipse rx="1.2" ry="0.7" fill="#e8e8e8" transform="translate(564.8 85.9) rotate(0)"/>
<ellipse rx="2.5" ry="1.8" fill="#222" transform="translate(533.8 95.6) rotate(-15)"/><ellipse rx="1.2" ry="0.7" fill="#e8e8e8" transform="translate(534.1 96.0) rotate(-15)"/>
<ellipse rx="2.5" ry="1.8" fill="#222" transform="translate(550.3 102.5) rotate(-30)"/><ellipse rx="1.2" ry="0.7" fill="#e8e8e8" transform="translate(550.6 102.9) rotate(-30)"/>
<ellipse rx="2.5" ry="1.8" fill="#222" transform="translate(536.0 117.8) rotate(30)"/><ellipse rx="1.2" ry="0.7" fill="#e8e8e8" transform="translate(536.3 118.2) rotate(30)"/>
<ellipse rx="2.5" ry="1.8" fill="#222" transform="translate(573.5 90.5) rotate(-30)"/><ellipse rx="1.2" ry="0.7" fill="#e8e8e8" transform="translate(573.8 90.9) rotate(-30)"/>
<circle cx="452.7" cy="109.2" r="1.1" fill="#c8c8c8" stroke="#222" stroke-width="1.0"/>
<circle cx="465.0" cy="109.2" r="1.1" fill="#c8c8c8" stroke="#222" stroke-width="1.0"/>
<circle cx="445.5" cy="121.8" r="1.1" fill="#c8c8c8" stroke="#222" stroke-width="1.0"/>
<circle cx="437.7" cy="125.7" r="1.1" fill="#c8c8c8" stroke="#222" stroke-width="1.0"/>
<circle cx="480.8" cy="120.8" r="1.1" fill="#c8c8c8" stroke="#222" stroke-width="1.0"/>
<circle cx="464.3" cy="126.5" r="1.1" fill="#c8c8c8" stroke="#222" stroke-width="1.0"/>
<circle cx="492.0" cy="121.2" r="1.1" fill="#c8c8c8" stroke="#222" stroke-width="1.0"/>
<circle cx="495.8" cy="124.8" r="1.1" fill="#c8c8c8" stroke="#222" stroke-width="1.0"/>
<circle cx="514.8" cy="103.5" r="1.1" fill="#c8c8c8" stroke="#222" stroke-width="1.0"/>
<circle cx="515.3" cy="144.8" r="1.1" fill="#c8c8c8" stroke="#222" stroke-width="1.0"/>
<circle cx="481.5" cy="147.8" r="1.1" fill="#c8c8c8" stroke="#222" stroke-width="1.0"/>
<circle cx="423.0" cy="160.8" r="1.1" fill="#c8c8c8" stroke="#222" stroke-width="1.0"/>
<circle cx="456.0" cy="163.0" r="1.1" fill="#c8c8c8" stroke="#222" stroke-width="1.0"/>
<circle cx="489.8" cy="158.5" r="1.1" fill="#c8c8c8" stroke="#222" stroke-width="1.0"/>
<circle cx="497.3" cy="158.5" r="1.1" fill="#c8c8c8" stroke="#222" stroke-width="1.0"/>
<circle cx="503.3" cy="163.8" r="1.1" fill="#c8c8c8" stroke="#222" stroke-width="1.0"/>
<circle cx="493.5" cy="165.3" r="1.1" fill="#c8c8c8" stroke="#222" stroke-width="1.0"/>
<circle cx="497.3" cy="168.3" r="1.1" fill="#c8c8c8" stroke="#222" stroke-width="1.0"/>
<circle cx="483.0" cy="175.0" r="1.1" fill="#c8c8c8" stroke="#222" stroke-width="1.0"/>
<circle cx="453.8" cy="178.0" r="1.1" fill="#c8c8c8" stroke="#222" stroke-width="1.0"/>
<circle cx="514.5" cy="145.0" r="1.1" fill="#c8c8c8" stroke="#222" stroke-width="1.0"/>
<circle cx="447.0" cy="168.3" r="1.1" fill="#c8c8c8" stroke="#222" stroke-width="1.0"/>
<circle cx="552.5" cy="73.5" r="1.1" fill="#c8c8c8" stroke="#222" stroke-width="1.0"/>
<circle cx="553.3" cy="84.0" r="1.1" fill="#c8c8c8" stroke="#222" stroke-width="1.0"/>
<circle cx="598.3" cy="73.2" r="1.1" fill="#c8c8c8" stroke="#222" stroke-width="1.0"/>
<circle cx="565.3" cy="99.8" r="1.1" fill="#c8c8c8" stroke="#222" stroke-width="1.0"/>
<circle cx="578.8" cy="94.2" r="1.1" fill="#c8c8c8" stroke="#222" stroke-width="1.0"/>
<circle cx="587.8" cy="96.0" r="1.1" fill="#c8c8c8" stroke="#222" stroke-width="1.0"/>
<circle cx="596.0" cy="90.8" r="1.1" fill="#c8c8c8" stroke="#222" stroke-width="1.0"/>
<circle cx="611.8" cy="90.8" r="1.1" fill="#c8c8c8" stroke="#222" stroke-width="1.0"/>
<circle cx="617.0" cy="92.0" r="1.1" fill="#c8c8c8" stroke="#222" stroke-width="1.0"/>
<circle cx="615.2" cy="97.5" r="1.1" fill="#c8c8c8" stroke="#222" stroke-width="1.0"/>
<circle cx="628.3" cy="91.5" r="1.1" fill="#c8c8c8" stroke="#222" stroke-width="1.0"/>
<circle cx="630.5" cy="102.8" r="1.1" fill="#c8c8c8" stroke="#222" stroke-width="1.0"/>
<circle cx="640.7" cy="99.8" r="1.1" fill="#c8c8c8" stroke="#222" stroke-width="1.0"/>
<circle cx="646.7" cy="100.2" r="1.1" fill="#c8c8c8" stroke="#222" stroke-width="1.0"/>
<circle cx="544.3" cy="95.3" r="1.1" fill="#c8c8c8" stroke="#222" stroke-width="1.0"/>
<circle cx="542.0" cy="102.5" r="1.1" fill="#c8c8c8" stroke="#222" stroke-width="1.0"/>
<circle cx="536.8" cy="100.5" r="1.1" fill="#c8c8c8" stroke="#222" stroke-width="1.0"/>
<circle cx="655.3" cy="103.5" r="1.1" fill="#c8c8c8" stroke="#222" stroke-width="1.0"/>
<circle cx="655.3" cy="108.8" r="1.1" fill="#c8c8c8" stroke="#222" stroke-width="1.0"/>
<circle cx="662.5" cy="108.3" r="1.1" fill="#c8c8c8" stroke="#222" stroke-width="1.0"/>
<circle cx="666.2" cy="97.5" r="1.1" fill="#c8c8c8" stroke="#222" stroke-width="1.0"/>
<circle cx="672.5" cy="110.3" r="1.1" fill="#c8c8c8" stroke="#222" stroke-width="1.0"/>
<circle cx="678.8" cy="111.0" r="1.1" fill="#c8c8c8" stroke="#222" stroke-width="1.0"/>
<circle cx="576.5" cy="189.8" r="1.1" fill="#c8c8c8" stroke="#222" stroke-width="1.0"/>
<circle cx="588.8" cy="183.7" r="1.1" fill="#c8c8c8" stroke="#222" stroke-width="1.0"/>
<circle cx="592.2" cy="188.2" r="1.1" fill="#c8c8c8" stroke="#222" stroke-width="1.0"/>
<circle cx="603.9" cy="183.5" r="1.1" fill="#c8c8c8" stroke="#222" stroke-width="1.0"/>
<circle cx="618.0" cy="194.3" r="1.1" fill="#c8c8c8" stroke="#222" stroke-width="1.0"/>
<circle cx="614.6" cy="201.0" r="1.1" fill="#c8c8c8" stroke="#222" stroke-width="1.0"/>
<circle cx="602.3" cy="205.5" r="1.1" fill="#c8c8c8" stroke="#222" stroke-width="1.0"/>
<circle cx="583.2" cy="196.5" r="1.1" fill="#c8c8c8" stroke="#222" stroke-width="1.0"/>
<circle cx="566.4" cy="206.6" r="1.1" fill="#c8c8c8" stroke="#222" stroke-width="1.0"/>
<circle cx="572.7" cy="212.9" r="1.1" fill="#c8c8c8" stroke="#222" stroke-width="1.0"/>
<circle cx="626.5" cy="206.6" r="1.1" fill="#c8c8c8" stroke="#222" stroke-width="1.0"/>
<circle cx="623.6" cy="218.5" r="1.1" fill="#c8c8c8" stroke="#222" stroke-width="1.0"/>
<circle cx="579.9" cy="221.2" r="1.1" fill="#c8c8c8" stroke="#222" stroke-width="1.0"/>
<circle cx="585.5" cy="226.8" r="1.1" fill="#c8c8c8" stroke="#222" stroke-width="1.0"/>
<circle cx="578.7" cy="232.4" r="1.1" fill="#c8c8c8" stroke="#222" stroke-width="1.0"/>
<circle cx="558.6" cy="232.4" r="1.1" fill="#c8c8c8" stroke="#222" stroke-width="1.0"/>
<circle cx="570.9" cy="233.5" r="1.1" fill="#c8c8c8" stroke="#222" stroke-width="1.0"/>
<circle cx="600.0" cy="240.0" r="1.1" fill="#c8c8c8" stroke="#222" stroke-width="1.0"/>
<circle cx="630.3" cy="232.4" r="1.1" fill="#c8c8c8" stroke="#222" stroke-width="1.0"/>
<circle cx="614.6" cy="234.6" r="1.1" fill="#c8c8c8" stroke="#222" stroke-width="1.0"/>
<circle cx="558.8" cy="232.5" r="1.1" fill="#c8c8c8" stroke="#222" stroke-width="1.0"/>
<circle cx="571.5" cy="234.0" r="1.1" fill="#c8c8c8" stroke="#222" stroke-width="1.0"/>
<circle cx="580.5" cy="231.8" r="1.1" fill="#c8c8c8" stroke="#222" stroke-width="1.0"/>
<circle cx="562.5" cy="247.5" r="1.1" fill="#c8c8c8" stroke="#222" stroke-width="1.0"/>
<circle cx="564.0" cy="252.8" r="1.1" fill="#c8c8c8" stroke="#222" stroke-width="1.0"/>
<circle cx="585.0" cy="252.8" r="1.1" fill="#c8c8c8" stroke="#222" stroke-width="1.0"/>
<circle cx="576.0" cy="258.8" r="1.1" fill="#c8c8c8" stroke="#222" stroke-width="1.0"/>
<circle cx="573.8" cy="264.3" r="1.1" fill="#c8c8c8" stroke="#222" stroke-width="1.0"/>
<circle cx="578.3" cy="267.0" r="1.1" fill="#c8c8c8" stroke="#222" stroke-width="1.0"/>
<circle cx="604.5" cy="258.0" r="1.1" fill="#c8c8c8" stroke="#222" stroke-width="1.0"/>
<circle cx="580.5" cy="274.5" r="1.1" fill="#c8c8c8" stroke="#222" stroke-width="1.0"/>
<circle cx="597.0" cy="274.5" r="1.1" fill="#c8c8c8" stroke="#222" stroke-width="1.0"/>
<circle cx="606.0" cy="275.3" r="1.1" fill="#c8c8c8" stroke="#222" stroke-width="1.0"/>
<circle cx="610.5" cy="277.5" r="1.1" fill="#c8c8c8" stroke="#222" stroke-width="1.0"/>
<circle cx="619.5" cy="273.8" r="1.1" fill="#c8c8c8" stroke="#222" stroke-width="1.0"/>
<circle cx="624.8" cy="261.8" r="1.1" fill="#c8c8c8" stroke="#222" stroke-width="1.0"/>
<circle cx="629.3" cy="243.0" r="1.1" fill="#c8c8c8" stroke="#222" stroke-width="1.0"/>
<circle cx="618.0" cy="244.5" r="1.1" fill="#c8c8c8" stroke="#222" stroke-width="1.0"/>
<circle cx="571.5" cy="282.8" r="1.1" fill="#c8c8c8" stroke="#222" stroke-width="1.0"/>
<circle cx="585.0" cy="282.8" r="1.1" fill="#c8c8c8" stroke="#222" stroke-width="1.0"/>
<circle cx="592.5" cy="282.0" r="1.1" fill="#c8c8c8" stroke="#222" stroke-width="1.0"/>
<circle cx="604.5" cy="282.8" r="1.1" fill="#c8c8c8" stroke="#222" stroke-width="1.0"/>
<circle cx="560.9" cy="287.0" r="1.1" fill="#c8c8c8" stroke="#222" stroke-width="1.0"/>
<circle cx="572.9" cy="283.0" r="1.1" fill="#c8c8c8" stroke="#222" stroke-width="1.0"/>
<circle cx="583.9" cy="284.0" r="1.1" fill="#c8c8c8" stroke="#222" stroke-width="1.0"/>
<circle cx="604.8" cy="282.0" r="1.1" fill="#c8c8c8" stroke="#222" stroke-width="1.0"/>
<circle cx="617.7" cy="285.0" r="1.1" fill="#c8c8c8" stroke="#222" stroke-width="1.0"/>
<circle cx="582.9" cy="297.9" r="1.1" fill="#c8c8c8" stroke="#222" stroke-width="1.0"/>
<circle cx="601.8" cy="296.9" r="1.1" fill="#c8c8c8" stroke="#222" stroke-width="1.0"/>
<circle cx="613.8" cy="300.9" r="1.1" fill="#c8c8c8" stroke="#222" stroke-width="1.0"/>
<circle cx="560.9" cy="304.9" r="1.1" fill="#c8c8c8" stroke="#222" stroke-width="1.0"/>
<circle cx="582.9" cy="304.9" r="1.1" fill="#c8c8c8" stroke="#222" stroke-width="1.0"/>
<circle cx="593.8" cy="309.5" r="1.1" fill="#c8c8c8" stroke="#222" stroke-width="1.0"/>
<circle cx="601.8" cy="307.9" r="1.1" fill="#c8c8c8" stroke="#222" stroke-width="1.0"/>
<circle cx="554.0" cy="315.9" r="1.1" fill="#c8c8c8" stroke="#222" stroke-width="1.0"/>
<circle cx="574.9" cy="316.9" r="1.1" fill="#c8c8c8" stroke="#222" stroke-width="1.0"/>
<circle cx="572.9" cy="326.8" r="1.1" fill="#c8c8c8" stroke="#222" stroke-width="1.0"/>
<circle cx="581.9" cy="329.8" r="1.1" fill="#c8c8c8" stroke="#222" stroke-width="1.0"/>
<circle cx="590.4" cy="325.8" r="1.1" fill="#c8c8c8" stroke="#222" stroke-width="1.0"/>
<circle cx="549.0" cy="331.8" r="1.1" fill="#c8c8c8" stroke="#222" stroke-width="1.0"/>
<circle cx="551.6" cy="343.8" r="1.1" fill="#c8c8c8" stroke="#222" stroke-width="1.0"/>
<circle cx="603.8" cy="349.8" r="1.1" fill="#c8c8c8" stroke="#222" stroke-width="1.0"/>
<path d="M384,152.4 L646,131.9 M384,178.9 L585,148.8 M384,206.2 L536,183 M384,234.2 L489,211.6" stroke="#111" stroke-width="1.7" fill="none"/>
<path d="M218.8,140.6 C210.5,140.6 207.6,145 207.6,154 L207.6,174 C207.6,182 204.5,186 198.8,187.3 C204.5,188.6 207.6,193 207.6,201 L207.6,223 C207.6,232 210.5,236.8 218.8,236.8" fill="none" stroke="#111" stroke-width="2.8" stroke-linecap="round"/>
<g class="t"><text transform="translate(328.9 62) scale(0.73 1)" font-size="25" textLength="168.2" lengthAdjust="spacing">Articular Disc</text></g>
<text class="t" x="78" y="196.5" font-size="25" textLength="112.6" lengthAdjust="spacingAndGlyphs">Articular Disc</text>
<text class="t" x="229.6" y="158.4" font-size="25" textLength="150.5" lengthAdjust="spacingAndGlyphs">Retrodiscal tissue</text>
<text class="t" x="254.4" y="185.2" font-size="25" textLength="125.5" lengthAdjust="spacingAndGlyphs">Posterior band</text>
<text class="t" x="221.8" y="212.8" font-size="25" textLength="158.1" lengthAdjust="spacingAndGlyphs">Intermediate zone</text>
<text class="t" x="260" y="240.2" font-size="25" textLength="119.9" lengthAdjust="spacingAndGlyphs">Anterior band</text>
</g>
</svg>
</body></html>
